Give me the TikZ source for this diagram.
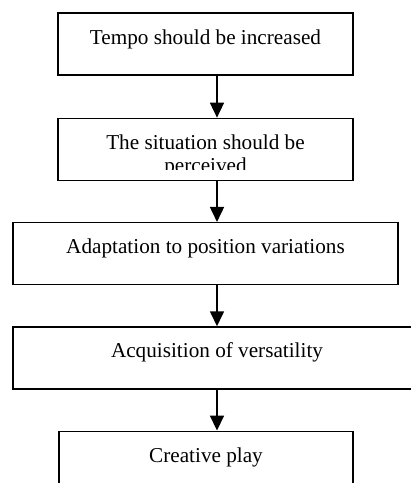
\documentclass[tikz,border=0pt]{standalone}
\usepackage{fontspec}
\setmainfont{Liberation Serif}
\usepackage{tikz}
\usetikzlibrary{arrows.meta}
\usetikzlibrary{positioning}
\tikzstyle{stage} = [rectangle, draw=black, line width=0.65pt, inner ysep=0pt, text height=15.5pt, text depth=15.5pt, font=\fontsize{10.6}{12}\selectfont, text centered]
\tikzstyle{arrow} = [line width=0.85pt, -{Triangle[width=7pt,length=7.5pt]}]

\begin{document}
\begin{tikzpicture}[x=0.5pt, y=-0.5pt]

\clip (0,0) rectangle (411,483);

\node (s1) [stage, minimum width=147.5pt] at (205.5,44) {Tempo should be increased};
\node (s2) [stage, minimum width=147.5pt, below=21pt of s1] {The situation should be};
\node (s3) [stage, minimum width=192.5pt, below=20.5pt of s2] {Adaptation to position variations};
\node (s4) [stage, minimum width=204pt, below=20.5pt of s3, xshift=5.75pt] {Acquisition of versatility};
\node (s5) [stage, minimum width=147pt, below=20.5pt of s4, xshift=-5.5pt] {Creative play};

% second line of s2 is cut off by the box
\begin{scope}
\clip (s2.north west) rectangle ([yshift=5.5pt]s2.south east);
\node (s2b) [anchor=base, font=\fontsize{10.6}{12}\selectfont] at ([yshift=-11.5pt]s2.base) {perceived};
\end{scope}

\coordinate (ax) at (217,0);
\draw [arrow] (s1.south -| ax) -- (s2.north -| ax);
\draw [arrow] (s2.south -| ax) -- (s3.north -| ax);
\draw [arrow] (s3.south -| ax) -- (s4.north -| ax);
\draw [arrow] (s4.south -| ax) -- (s5.north -| ax);

\end{tikzpicture}
\end{document}
